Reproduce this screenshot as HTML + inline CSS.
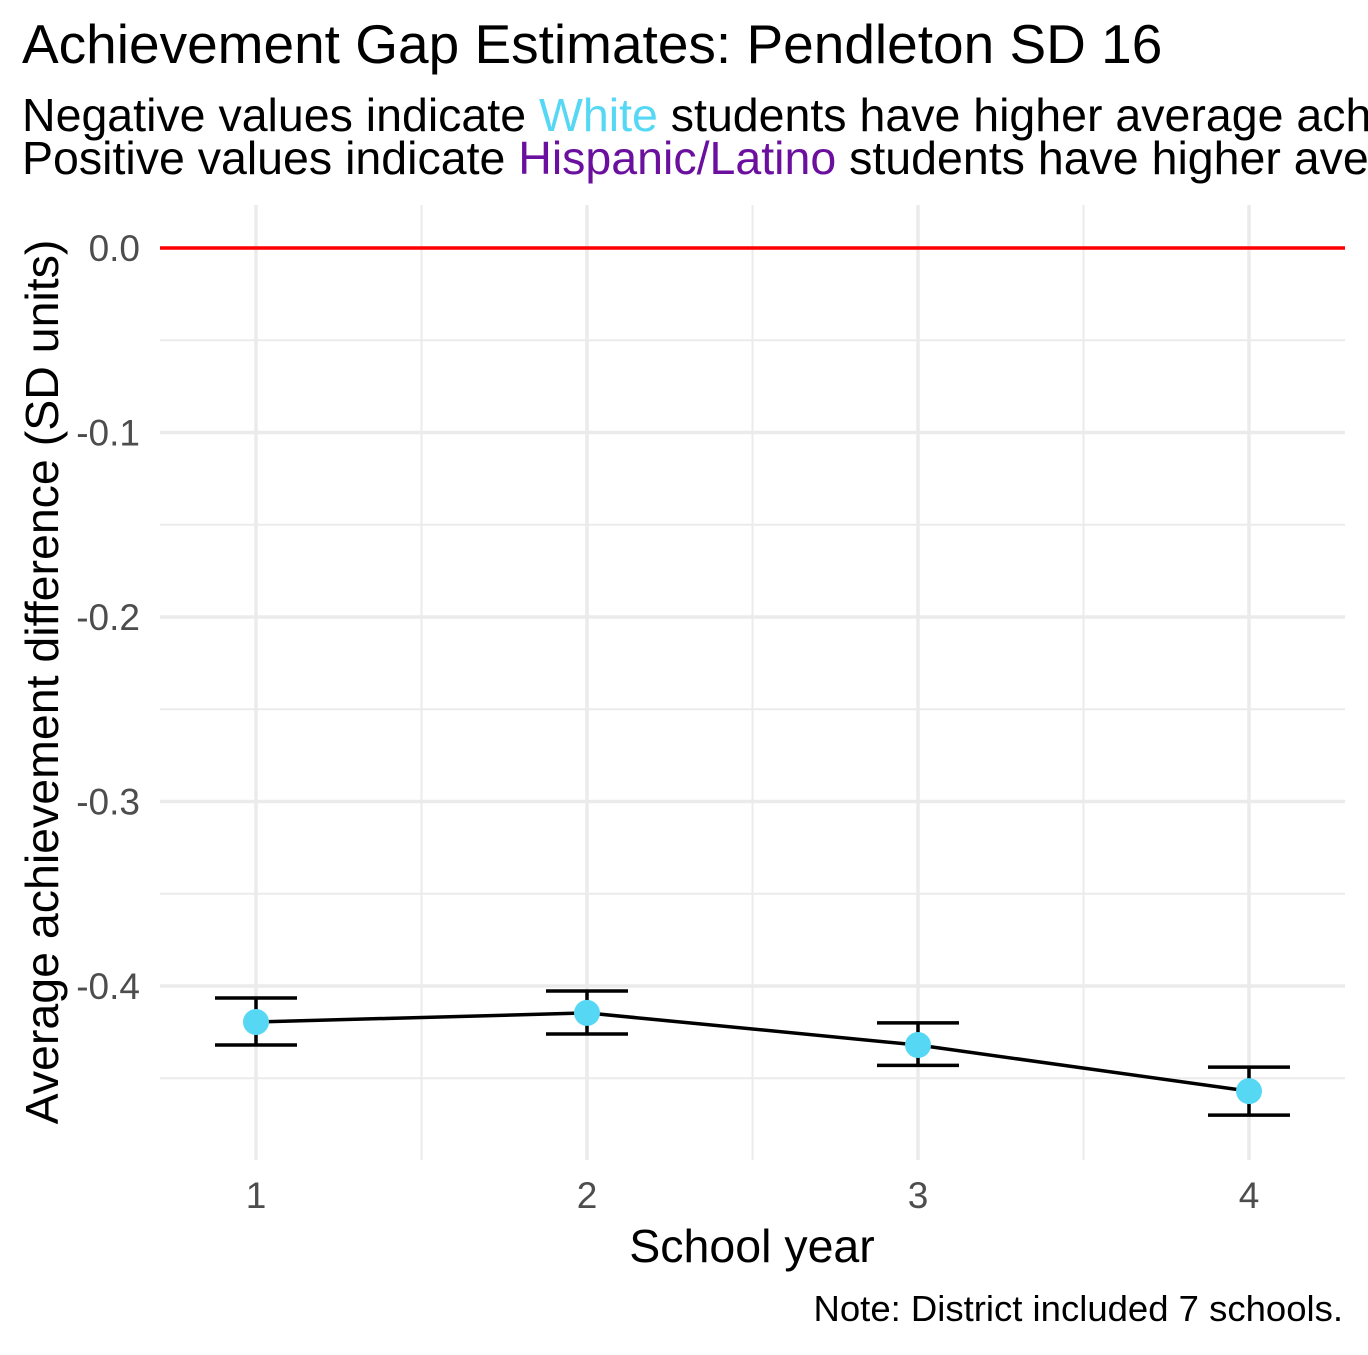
<!DOCTYPE html>
<html><head><meta charset="utf-8"><style>
body{margin:0;background:#fff;width:1368px;height:1350px;overflow:hidden}
svg text{font-family:"Liberation Sans",Arial,sans-serif}
</style></head><body>
<svg id="chart" width="1368" height="1350" xmlns="http://www.w3.org/2000/svg">
<text x="22" y="63" font-size="55" fill="#000">Achievement Gap Estimates: Pendleton SD 16</text>
<text x="22" y="131" font-size="46.5" fill="#000">Negative values indicate <tspan fill="#56d8f5">White</tspan> students have higher average achievement</text>
<text x="22" y="174" font-size="46.5" fill="#000">Positive values indicate <tspan fill="#6a0f9e">Hispanic/Latino</tspan> students have higher average achievement</text>
<g id="grid"></g>
<g id="marks"></g>
<g id="axes"></g>
<text x="752" y="1262" font-size="46.5" text-anchor="middle" fill="#000">School year</text>
<text transform="translate(58,682) rotate(-90)" font-size="46.5" text-anchor="middle" fill="#000">Average achievement difference (SD units)</text>
<text x="1343" y="1321" font-size="36.5" text-anchor="end" fill="#000">Note: District included 7 schools.</text>
</svg>
<script>
const years=[1,2,3,4];
const estimates=[-0.4195,-0.4146,-0.432,-0.457];
const lowerCI=[-0.432,-0.426,-0.443,-0.470];
const upperCI=[-0.4065,-0.4027,-0.420,-0.444];
const yTicks=[0,-0.1,-0.2,-0.3,-0.4];
const yTickLabels=["0.0","-0.1","-0.2","-0.3","-0.4"];
const xTickLabels=["1","2","3","4"];

const NS="http://www.w3.org/2000/svg";
const L=160,R=1345,T=205,B=1160;
const xs=v=>256+(v-1)*331;
const ys=v=>248-v*1845;
function mk(parent,tag,attrs){const e=document.createElementNS(NS,tag);for(const k in attrs)e.setAttribute(k,attrs[k]);document.getElementById(parent).appendChild(e);return e;}

for(let v=0.05;v>=-0.46;v-=0.05){
  const y=ys(v); if(y<T||y>B) continue;
  const major=Math.abs(Math.round(v*10)-v*10)<1e-6;
  const g=mk('grid','line',{x1:L,x2:R,y1:y,y2:y,stroke:'#ebebeb','stroke-width':major?3.5:2});
  
  
}
for(let v=0.5;v<=4.5;v+=0.5){
  const x=xs(v); if(x<L||x>R) continue;
  const major=Number.isInteger(v);
  const g=mk('grid','line',{x1:x,x2:x,y1:T,y2:B,stroke:'#ebebeb','stroke-width':major?3.5:2});
  
  
}
yTicks.forEach((v,i)=>{
  const t=mk('axes','text',{x:140,y:ys(v)+13,'font-size':37,'text-anchor':'end',fill:'#4d4d4d'});
  t.textContent=yTickLabels[i];
  
  
});
years.forEach((v,i)=>{
  const t=mk('axes','text',{x:xs(v),y:1208,'font-size':37,'text-anchor':'middle',fill:'#4d4d4d'});
  t.textContent=xTickLabels[i];
  
  
});
const zl=mk('marks','line',{x1:L,x2:R,y1:ys(0),y2:ys(0),stroke:'#ff0000','stroke-width':3.5});


const pl=mk('marks','polyline',{points:years.map((v,i)=>xs(v)+','+ys(estimates[i])).join(' '),fill:'none',stroke:'#000','stroke-width':3.5});


years.forEach((v,i)=>{
  const x=xs(v),w=41;
  const d=`M${x-w},${ys(upperCI[i])}H${x+w}M${x-w},${ys(lowerCI[i])}H${x+w}M${x},${ys(upperCI[i])}V${ys(lowerCI[i])}`;
  const eb=mk('marks','path',{d:d,stroke:'#000','stroke-width':3.5,fill:'none'});
  
  
});
years.forEach((v,i)=>{
  const c=mk('marks','circle',{cx:xs(v),cy:ys(estimates[i]),r:13,fill:'#56d8f5'});
  
  
});
</script>
</body></html>
